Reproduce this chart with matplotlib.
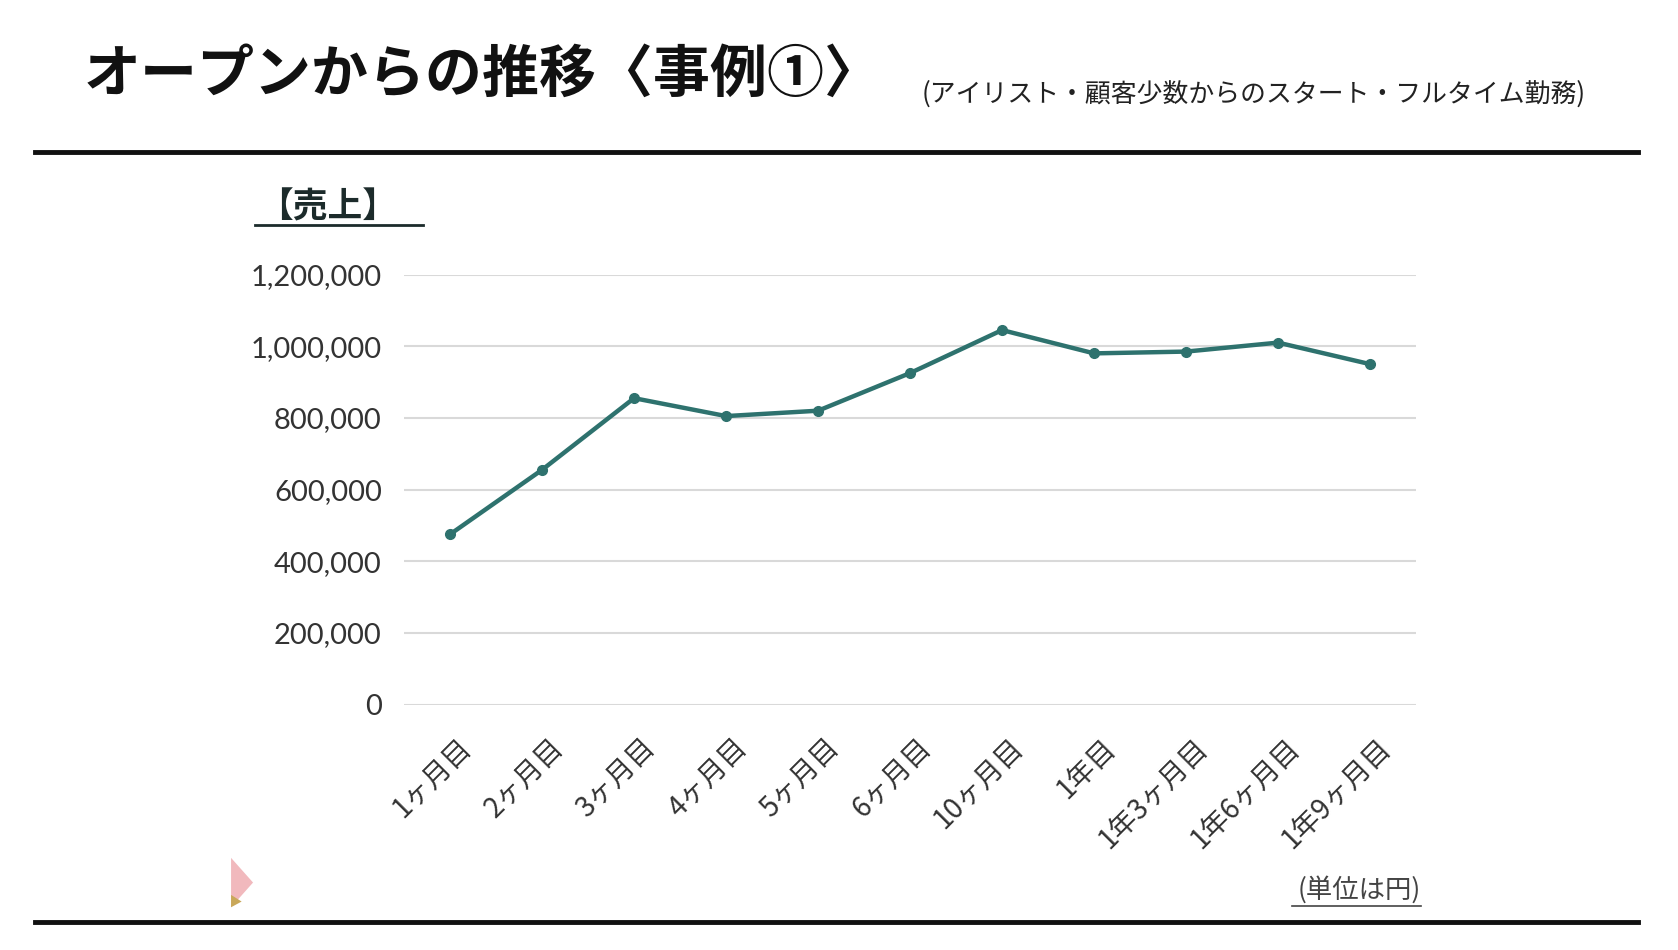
import matplotlib.pyplot as plt
import matplotlib.transforms as mtransforms
from matplotlib.patches import Polygon
from matplotlib.lines import Line2D
from matplotlib.ticker import FuncFormatter

periods = ['1ヶ月目', '2ヶ月目', '3ヶ月目', '4ヶ月目', '5ヶ月目', '6ヶ月目',
           '10ヶ月目', '1年目', '1年3ヶ月目', '1年6ヶ月目', '1年9ヶ月目']
sales = [475000, 655000, 855000, 805000, 820000, 925000,
         1045000, 980000, 985000, 1010000, 950000]
y_ticks = [0, 200000, 400000, 600000, 800000, 1000000, 1200000]

jp = ['Noto Sans CJK JP', 'DejaVu Sans']
num = ['Lato', 'Noto Sans CJK JP']
teal = '#2e726e'

fig = plt.figure(figsize=(16.78, 9.5), dpi=100)
fig.patch.set_facecolor('white')

ax = fig.add_axes([0.2408, 0.2584, 0.6031, 0.4526])
x = list(range(len(periods)))
ax.plot(x, sales, color=teal, linewidth=3.2, marker='o', markersize=7,
        solid_joinstyle='round', clip_on=False, zorder=3)

ax.set_xlim(-0.5, len(periods) - 0.5)
ax.set_ylim(0, 1200000)
ax.set_yticks(y_ticks)
ax.yaxis.set_major_formatter(FuncFormatter(lambda v, p: f'{int(v):,}'))
ax.grid(axis='y', color='#d9d9d9', linewidth=1.5)
ax.set_axisbelow(True)
for s in ax.spines.values():
    s.set_visible(False)
ax.tick_params(axis='both', length=0)
ax.tick_params(axis='y', pad=16, labelsize=21, labelcolor='#333333')
for lab in ax.get_yticklabels():
    lab.set_family(num)

ax.set_xticks(x)
ax.set_xticklabels(periods, rotation=45, ha='right', va='center',
                   rotation_mode='anchor', fontsize=20, color='#333333',
                   family=jp)
offset = mtransforms.ScaledTranslation(0.17, -0.34, fig.dpi_scale_trans)
for lab in ax.get_xticklabels():
    lab.set_transform(lab.get_transform() + offset)

# title and subtitle
fig.text(0.050, 0.921, 'オープンからの推移〈事例①〉', fontsize=41,
         fontweight='bold', family=jp, color='#111111', va='center')
fig.text(0.549, 0.901, '(アイリスト・顧客少数からのスタート・フルタイム勤務)',
         fontsize=18.6, family=jp, color='#222222', va='center')

# horizontal rules
fig.add_artist(Line2D([0.021, 0.976], [0.840, 0.840], color='#111111',
                      linewidth=3.5))
fig.add_artist(Line2D([0.021, 0.976], [0.030, 0.030], color='#111111',
                      linewidth=3.5))

# 【売上】 label with underline
fig.text(0.195, 0.782, '【売上】', fontsize=25, fontweight='bold',
         family=jp, color='#1c2b2b', va='center', ha='center')
fig.add_artist(Line2D([0.152, 0.252], [0.763, 0.763], color='#1c2b2b',
                      linewidth=2))

# unit note
fig.text(0.8470, 0.063, '(単位は円)', fontsize=19, family=jp,
         color='#444444', va='center', ha='right')
fig.add_artist(Line2D([0.770, 0.847], [0.046, 0.046], color='#444444',
                      linewidth=1.2))

# decorative pink arrow
fig.add_artist(Polygon([[0.1377, 0.097], [0.1508, 0.071], [0.1377, 0.045]],
                       closed=True, facecolor='#f1b9bd', edgecolor='none',
                       transform=fig.transFigure))
fig.add_artist(Polygon([[0.1377, 0.058], [0.1440, 0.051], [0.1377, 0.045]],
                       closed=True, facecolor='#c9a85a', edgecolor='none',
                       transform=fig.transFigure))

fig.savefig('out.png', dpi=100, facecolor='white')
